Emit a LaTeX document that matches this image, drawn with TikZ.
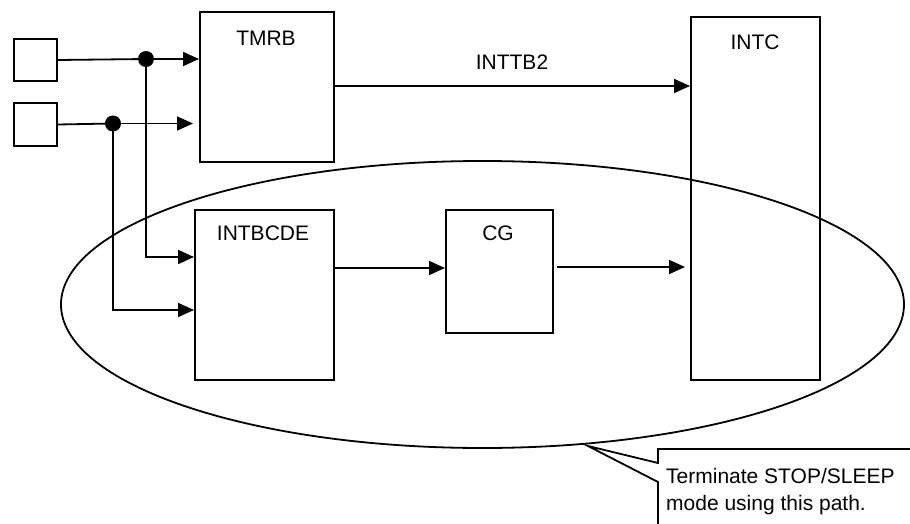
\documentclass[tikz,border=0pt]{standalone}
\usepackage{fontspec}
\setmainfont{Liberation Sans}
\usetikzlibrary{arrows.meta}
\begin{document}
\begin{tikzpicture}[x=1pt,y=-1pt,
  box/.style={draw, line width=2pt, rectangle, inner sep=0pt, anchor=north west},
  lbl/.style={font=\fontsize{21}{25}\selectfont, inner sep=0pt},
  wire/.style={line width=1.8pt},
  arr/.style={wire, -{Triangle[length=16pt,width=14pt]}},
  dot/.style={circle, fill, inner sep=0pt, minimum size=16pt}]
\useasboundingbox (0,0) rectangle (910,524);
\fill[white] (0,0) rectangle (910,524);

% boxes
\node[box, minimum width=43pt, minimum height=42pt] (in1) at (13,38) {};
\node[box, minimum width=43pt, minimum height=43pt] (in2) at (13,102) {};
\node[box, minimum width=134pt, minimum height=150pt] (tmrb) at (199,11) {};
\node[box, minimum width=129pt, minimum height=363pt] (intc) at (690,16) {};
\node[box, minimum width=139pt, minimum height=170pt] (intb) at (194,209) {};
\node[box, minimum width=107pt, minimum height=123pt] (cg) at (445,209) {};

% labels
\node[lbl] (tmrbL) at (266,38) {TMRB};
\node[lbl] (intcL) at (755,42) {INTC};
\node[lbl] (intbL) at (263,233) {INTBCDE};
\node[lbl] (cgL) at (498,233) {CG};
\node[lbl] (inttb2) at (512,62) {INTTB2};

% junctions
\node[dot] (j1) at (146,59) {};
\node[dot] (j2) at (113,123.5) {};

% helper coordinates
\coordinate (t2) at (193,123.5);
\coordinate (a1) at (194,257);
\coordinate (a2) at (194,310);
\coordinate (o1) at (0,86);
\coordinate (m1) at (0,268);
\coordinate (s1) at (557,267);
\coordinate (s2) at (685,267);

% wires
\draw[wire] (in1.east) -- (j1.center);
\draw[wire] (in2.east) -- (j2.center);
\draw[arr] (j1.center) -- (tmrb.west |- j1);
\draw[arr] (j2.center) -- (t2);
\draw[arr] (j1.center) |- (a1);
\draw[arr] (j2.center) |- (a2);
\draw[arr] (tmrb.east |- o1) -- (intc.west |- o1);
\draw[arr] (intb.east |- m1) -- (cg.west |- m1);
\draw[arr] (s1) -- (s2);

% ellipse
\draw[wire] (482.5,304.5) ellipse [x radius=421.5, y radius=143.5];

% callout
\coordinate (tip) at (588,446);
\coordinate (c1) at (910,449);
\coordinate (c2) at (658,449);
\coordinate (c3) at (658,463);
\coordinate (c4) at (658,482);
\coordinate (c5) at (658,524);
\draw[wire, line join=miter] (c1) -- (c2) -- (c3) -- (tip) -- (c4) -- (c5);
\node[lbl, anchor=base west] (note1) at (666,483) {Terminate STOP/SLEEP};
\node[lbl, anchor=base west] (note2) at (666,510) {mode using this path.};
\end{tikzpicture}
\end{document}
